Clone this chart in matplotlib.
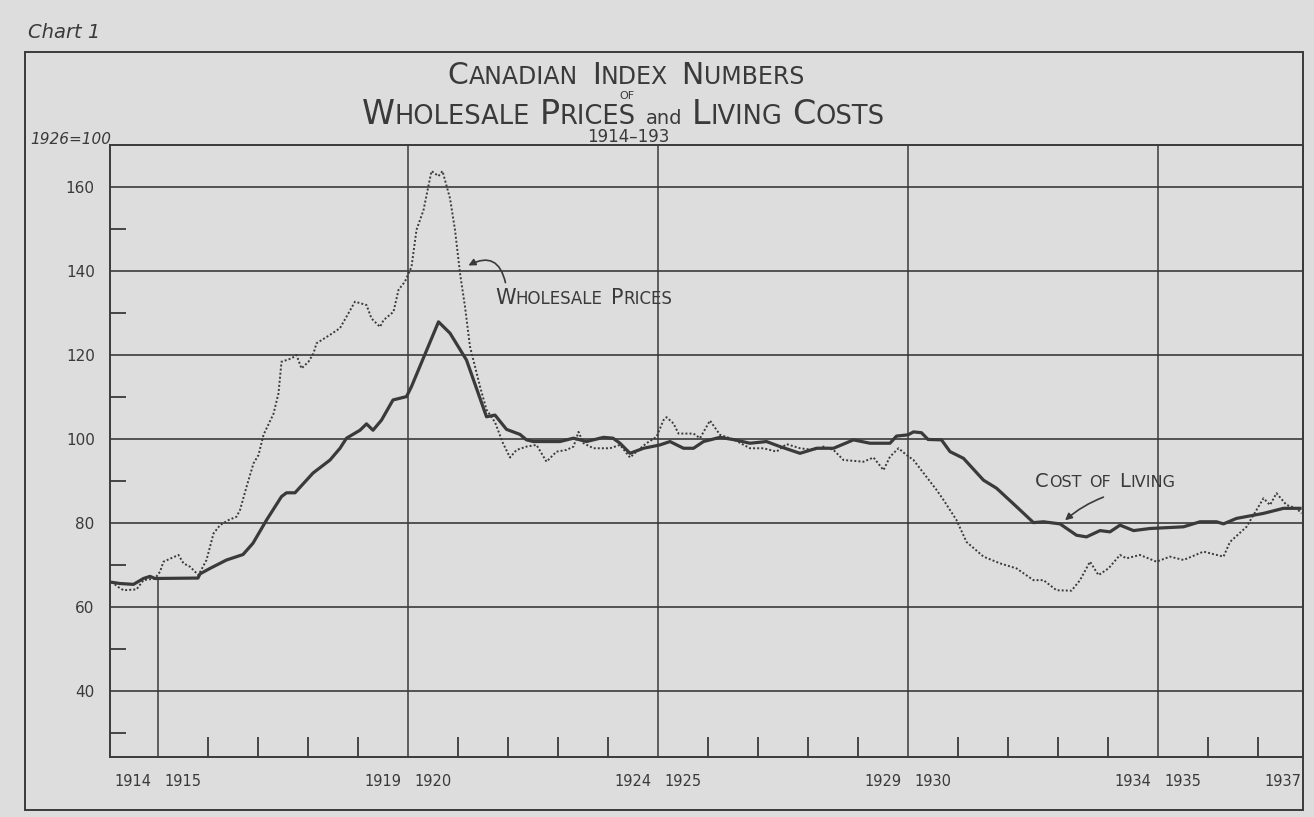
import matplotlib
matplotlib.use("Agg")
import matplotlib.pyplot as plt
from matplotlib.offsetbox import TextArea, HPacker, DrawingArea, AnnotationBbox
from matplotlib.patches import Rectangle

# values (1926 = 100)
cost_years = [1914.07, 1914.24, 1914.51, 1914.71, 1914.84, 1914.94, 1915.80, 1915.84, 1916.04, 1916.37,
              1916.70, 1916.90, 1917.17, 1917.47, 1917.57, 1917.74, 1918.10, 1918.44, 1918.64, 1918.77,
              1919.04, 1919.17, 1919.30, 1919.47, 1919.70, 1919.97, 1920.07, 1920.61, 1920.84, 1921.17,
              1921.57, 1921.74, 1921.97, 1922.24, 1922.37, 1922.51, 1923.04, 1923.31, 1923.57, 1923.91,
              1924.10, 1924.24, 1924.44, 1924.71, 1925.04, 1925.24, 1925.51, 1925.71, 1925.91, 1926.24,
              1926.54, 1926.84, 1927.17, 1927.44, 1927.84, 1928.17, 1928.51, 1928.91, 1929.24, 1929.64,
              1929.77, 1930.00, 1930.11, 1930.27, 1930.40, 1930.67, 1930.84, 1931.11, 1931.51, 1931.77,
              1932.17, 1932.51, 1932.71, 1933.04, 1933.37, 1933.57, 1933.84, 1934.04, 1934.24, 1934.51,
              1934.84, 1935.51, 1935.84, 1936.17, 1936.31, 1936.57, 1936.84, 1937.11, 1937.51, 1937.84]
cost_values = [65.9, 65.6, 65.4, 66.8, 67.3, 66.8, 66.9, 67.9, 69.2, 71.2,
               72.5, 75.2, 80.7, 86.3, 87.2, 87.2, 91.9, 95.0, 97.8, 100.2,
               102.1, 103.6, 102.1, 104.5, 109.3, 110.1, 112.5, 127.9, 125.2, 118.8,
               105.3, 105.7, 102.3, 101.1, 99.8, 99.4, 99.4, 100.2, 99.4, 100.4,
               100.2, 99.0, 96.6, 97.8, 98.6, 99.4, 97.8, 97.8, 99.4, 100.4,
               99.8, 99.0, 99.4, 98.2, 96.6, 97.8, 97.8, 99.8, 99.0, 99.0,
               100.7, 101.0, 101.7, 101.5, 99.9, 99.8, 97.0, 95.4, 90.2, 88.3,
               83.9, 80.1, 80.3, 79.8, 77.1, 76.7, 78.2, 77.9, 79.5, 78.2,
               78.7, 79.1, 80.3, 80.3, 79.8, 81.1, 81.7, 82.3, 83.5, 83.5]

wholesale_years = [1914.07, 1914.20, 1914.31, 1914.57, 1914.71, 1914.94, 1915.04, 1915.11, 1915.41, 1915.51,
                   1915.64, 1915.81, 1915.97, 1916.11, 1916.24, 1916.41, 1916.57, 1916.64, 1916.77, 1916.91,
                   1917.01, 1917.11, 1917.31, 1917.41, 1917.47, 1917.67, 1917.77, 1917.87, 1918.01, 1918.11,
                   1918.17, 1918.44, 1918.64, 1918.94, 1919.17, 1919.27, 1919.44, 1919.51, 1919.71, 1919.81,
                   1919.94, 1920.07, 1920.17, 1920.31, 1920.47, 1920.61, 1920.69, 1920.84, 1920.94, 1921.04,
                   1921.14, 1921.24, 1921.44, 1921.57, 1921.74, 1921.90, 1922.04, 1922.17, 1922.37, 1922.57,
                   1922.77, 1922.97, 1923.17, 1923.31, 1923.41, 1923.51, 1923.71, 1924.04, 1924.24, 1924.44,
                   1924.57, 1924.77, 1924.97, 1925.11, 1925.17, 1925.31, 1925.41, 1925.71, 1925.84, 1926.04,
                   1926.24, 1926.51, 1926.84, 1927.11, 1927.37, 1927.57, 1927.84, 1928.11, 1928.31, 1928.51,
                   1928.71, 1929.11, 1929.31, 1929.51, 1929.64, 1929.81, 1929.97, 1930.11, 1930.37, 1930.57,
                   1930.71, 1930.97, 1931.17, 1931.51, 1931.84, 1932.17, 1932.51, 1932.71, 1932.97, 1933.27,
                   1933.44, 1933.64, 1933.81, 1934.01, 1934.24, 1934.37, 1934.64, 1934.97, 1935.24, 1935.51,
                   1935.91, 1936.31, 1936.44, 1936.77, 1937.11, 1937.24, 1937.37, 1937.57, 1937.77, 1937.87]
wholesale_values = [66.0, 64.8, 64.0, 64.2, 66.4, 66.8, 68.4, 70.8, 72.4, 70.4,
                    69.6, 67.6, 71.2, 77.5, 79.5, 80.7, 81.5, 83.1, 88.6, 94.2,
                    96.2, 101.0, 106.0, 110.9, 118.4, 119.2, 120.0, 116.8, 118.4, 120.4,
                    122.8, 124.8, 126.4, 132.7, 131.9, 128.7, 126.7, 128.3, 130.3, 135.5,
                    137.5, 141.0, 149.8, 154.5, 163.8, 162.6, 163.8, 157.3, 149.8, 139.5,
                    131.5, 122.0, 112.5, 107.0, 104.0, 99.0, 95.6, 97.4, 98.2, 98.6,
                    94.6, 97.0, 97.4, 98.2, 101.7, 99.0, 97.8, 97.8, 98.6, 95.6,
                    97.0, 99.0, 100.5, 104.5, 105.2, 103.7, 101.3, 101.3, 100.2, 104.4,
                    101.0, 99.9, 97.8, 97.8, 97.0, 98.8, 97.8, 97.4, 98.2, 97.4,
                    95.0, 94.6, 95.6, 92.6, 95.8, 97.8, 96.2, 95.0, 91.0, 87.9,
                    85.5, 80.7, 75.5, 72.0, 70.4, 69.2, 66.4, 66.4, 64.0, 63.9,
                    66.4, 70.8, 67.6, 69.2, 72.4, 71.6, 72.4, 70.8, 72.0, 71.2,
                    73.2, 72.0, 75.5, 79.1, 85.9, 84.3, 87.1, 84.3, 83.5, 82.3]

y_labels = [40, 60, 80, 100, 120, 140, 160]
y_minor = [30, 50, 70, 90, 110, 130, 150]
x_labels = [1914, 1915, 1919, 1920, 1924, 1925, 1929, 1930, 1934, 1935, 1937]
x_lines = [1920, 1925, 1930, 1935]
x_marks = [y for y in range(1916, 1938) if y not in x_lines]

BG = "#dddddd"
INK = "#3a3a3a"
W, H = 1314, 817

fig = plt.figure(figsize=(W / 100, H / 100), dpi=100, facecolor=BG)


def fx(px):
    return px / W


def fy(py):
    return 1 - py / H


ax = fig.add_axes([fx(110), fy(757), fx(1303) - fx(110), fy(145) - fy(757)])
ax.set_facecolor(BG)
ax.set_xlim(1914.04, 1937.9)
ax.set_ylim(24.3, 170)

for s in ax.spines.values():
    s.set_color(INK)
    s.set_linewidth(1.4)

# grid
for v in y_labels:
    ax.axhline(v, color=INK, lw=1.2, zorder=1)
for yr in x_lines:
    ax.axvline(yr, color=INK, lw=1.1, zorder=1)
ax.plot([1915, 1915], [24.3, 66.6], color=INK, lw=1.1, zorder=1)

# series
ax.plot(wholesale_years, wholesale_values, color=INK, lw=1.4, ls=(0, (1, 1.1)), zorder=3)
ax.plot(cost_years, cost_values, color=INK, lw=2.3, zorder=4)

# ticks
ax.set_yticks(y_labels)
ax.set_yticklabels([str(v) for v in y_labels])
ax.set_yticks(y_minor, minor=True)
ax.tick_params(axis="y", which="major", length=0, pad=11, labelsize=11, labelcolor=INK)
ax.tick_params(axis="y", which="minor", direction="in", length=11.5, width=1.3, color=INK)

ax.set_xticks(x_marks)
ax.set_xticklabels([])
ax.set_xticks([y + 0.5 for y in x_labels], minor=True)
ax.set_xticklabels([str(y) for y in x_labels], minor=True)
ax.tick_params(axis="x", which="major", direction="in", length=14.5, width=1.3, color=INK)
ax.tick_params(axis="x", which="minor", length=0, pad=12, labelsize=10.5, labelcolor=INK)


def caps(pieces, gap=8):
    kids = []
    for txt, size in pieces:
        if txt == " ":
            kids.append(DrawingArea(gap, 1))
        else:
            kids.append(TextArea(txt, textprops=dict(size=size, color=INK)))
    return HPacker(children=kids, align="baseline", pad=0, sep=0)


def place(box, xy, coords, align=(0.5, 0.5)):
    ab = AnnotationBbox(box, xy, xycoords=coords, frameon=False, box_alignment=align, pad=0,
                        annotation_clip=False)
    fig.add_artist(ab) if coords == "figure fraction" else ax.add_artist(ab)


# title
B1, S1 = 21.5, 17
place(caps([("C", B1), ("ANADIAN", S1), (" ", 0), ("I", B1), ("NDEX", S1), (" ", 0),
            ("N", B1), ("UMBERS", S1)], gap=10), (fx(626), fy(75)), "figure fraction")
B2, S2 = 24, 18.5
place(caps([("W", B2), ("HOLESALE", S2), (" ", 0), ("P", B2), ("RICES", S2), (" ", 0),
            ("and", 14), (" ", 0), ("L", B2), ("IVING", S2), (" ", 0), ("C", B2), ("OSTS", S2)], gap=7),
      (fx(623), fy(114)), "figure fraction")
fig.text(fx(627), fy(96), "OF", size=8, color=INK, ha="center", va="center")
fig.text(fx(628), fy(137), "1914\u2013193", size=12, color=INK, ha="center", va="center")

fig.text(fx(28), fy(32), "Chart 1", size=14, style="italic", color=INK, ha="left", va="center")
fig.text(fx(30), fy(139), "1926=100", size=11, style="italic", color=INK, ha="left", va="center")

# outer frame
fig.add_artist(Rectangle((fx(25), fy(810)), fx(1303) - fx(25), fy(52) - fy(810),
                         transform=fig.transFigure, fill=False, ec=INK, lw=1.4))

# series labels
place(caps([("W", 15), ("HOLESALE", 12), (" ", 0), ("P", 15), ("RICES", 12)], gap=6),
      (1921.74, 133.6), "data", align=(0, 0.5))
ax.annotate("", xy=(1921.16, 141.0), xytext=(1921.96, 136.6),
            arrowprops=dict(arrowstyle="-|>", color=INK, lw=1.2, mutation_scale=10,
                            connectionstyle="arc3,rad=0.7"))

place(caps([("C", 14), ("OST", 11.5), (" ", 0), ("OF", 11.5), (" ", 0), ("L", 14), ("IVING", 11.5)], gap=6),
      (1932.54, 89.8), "data", align=(0, 0.5))
ax.annotate("", xy=(1933.1, 80.2), xytext=(1933.96, 86.4),
            arrowprops=dict(arrowstyle="-|>", color=INK, lw=1.2, mutation_scale=10,
                            connectionstyle="arc3,rad=0.1"))

fig.savefig("out.png", dpi=100, facecolor=BG)
